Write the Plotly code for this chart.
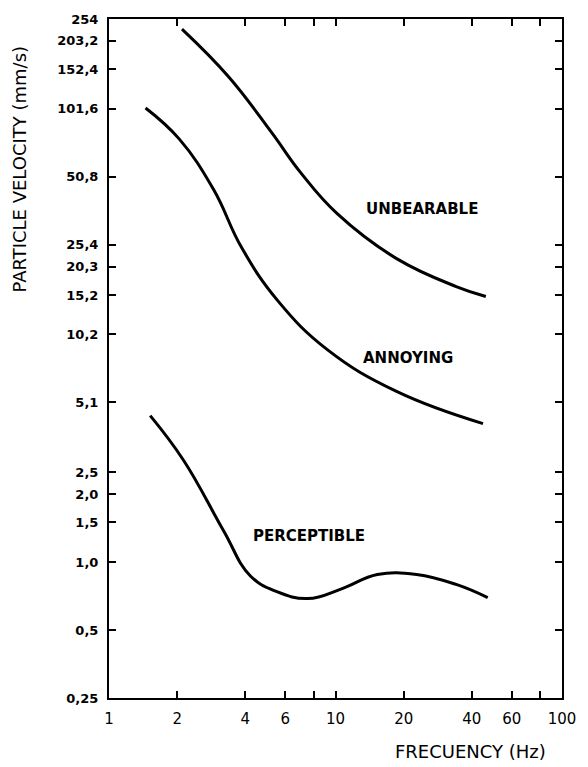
import plotly.graph_objects as go
import math

# Frequency (Hz) and particle velocity (mm/s) along each threshold curve
unbearable_hz = [2.10, 3.38, 5.20, 7.03, 10.2, 18.7, 34.1, 46.1]
unbearable_v = [229, 140.6, 80.3, 52.9, 34.8, 22.0, 16.6, 15.0]

annoying_hz = [1.45, 2.04, 2.90, 3.85, 5.58, 9.23, 18.7, 44.8]
annoying_v = [102.5, 74.8, 44.5, 24.7, 14.3, 8.70, 5.68, 4.10]

perceptible_hz = [1.52, 2.14, 3.20, 4.20, 5.50, 7.55, 10.7, 15.3, 22.8, 34.1, 47.0]
perceptible_v = [4.45, 2.81, 1.38, 0.87, 0.74, 0.689, 0.763, 0.881, 0.881, 0.796, 0.696]

# Axis ticks
x_tickvals = [1, 2, 4, 6, 8, 10, 20, 40, 60, 80, 100]
x_ticktext = ["1", "2", "4", "6", "", "10", "20", "40", "60", "", "100"]
y_tickvals = [0.25, 0.5, 1.0, 1.5, 2.0, 2.5, 5.1, 10.2, 15.2, 20.3, 25.4, 50.8, 101.6, 152.4, 203.2, 254]
y_ticktext = ["0,25", "0,5", "1,0", "1,5", "2,0", "2,5", "5,1", "10,2", "15,2", "20,3",
              "25,4", "50,8", "101,6", "152,4", "203,2", "254"]

# Curve labels: (text, frequency, velocity)
curve_labels = [
    ("UNBEARABLE", 24.0, 36.6),
    ("ANNOYING", 20.8, 8.03),
    ("PERCEPTIBLE", 7.62, 1.30),
]

W, H = 588, 767
L, R, T, B = 109, 21, 17, 69
plot_w, plot_h = W - L - R, H - T - B


def px_to_paper(px, py):
    return (px - L) / plot_w, 1 - (py - T) / plot_h


fig = go.Figure()
for hz, v in [(unbearable_hz, unbearable_v), (annoying_hz, annoying_v), (perceptible_hz, perceptible_v)]:
    fig.add_trace(go.Scatter(
        x=hz, y=v, mode="lines",
        line=dict(color="black", width=3, shape="spline", smoothing=1.2),
        showlegend=False, hoverinfo="skip",
    ))

for text, fx, fy in curve_labels:
    fig.add_annotation(
        x=math.log10(fx), y=math.log10(fy), xref="x", yref="y", text=text,
        showarrow=False, xanchor="center", yanchor="middle",
        font=dict(family="DejaVu Sans", size=15, color="black", weight="bold"),
    )

# Axis titles
tx, ty = px_to_paper(19, 167)
fig.add_annotation(
    x=tx, y=ty, xref="paper", yref="paper", text="PARTICLE VELOCITY (mm/s)",
    showarrow=False, textangle=-90, xanchor="center", yanchor="middle",
    font=dict(family="DejaVu Sans", size=18, color="black"),
)
tx, ty = px_to_paper(474, 752)
fig.add_annotation(
    x=tx, y=ty, xref="paper", yref="paper", text="FRECUENCY (Hz)",
    showarrow=False, xanchor="center", yanchor="middle",
    font=dict(family="DejaVu Sans", size=18, color="black"),
)

fig.update_xaxes(
    type="log", range=[0, 2], tickmode="array", tickvals=x_tickvals, ticktext=x_ticktext,
    ticks="inside", ticklen=7, tickwidth=1.5, tickcolor="black",
    showline=True, linecolor="black", linewidth=2, mirror="ticks",
    showgrid=False, zeroline=False, ticklabelstandoff=6,
    tickfont=dict(family="DejaVu Sans", size=15, color="black"),
)
fig.update_yaxes(
    type="log", range=[math.log10(0.25), math.log10(254)], tickmode="array",
    tickvals=y_tickvals, ticktext=y_ticktext,
    ticks="inside", ticklen=7, tickwidth=1.5, tickcolor="black",
    showline=True, linecolor="black", linewidth=2, mirror="ticks",
    showgrid=False, zeroline=False, ticklabelstandoff=6,
    tickfont=dict(family="DejaVu Sans", size=13, color="black", weight="bold"),
)
fig.update_layout(
    width=W, height=H,
    margin=dict(l=L, r=R, t=T, b=B),
    paper_bgcolor="white", plot_bgcolor="white",
)

fig.write_html("out.html")
